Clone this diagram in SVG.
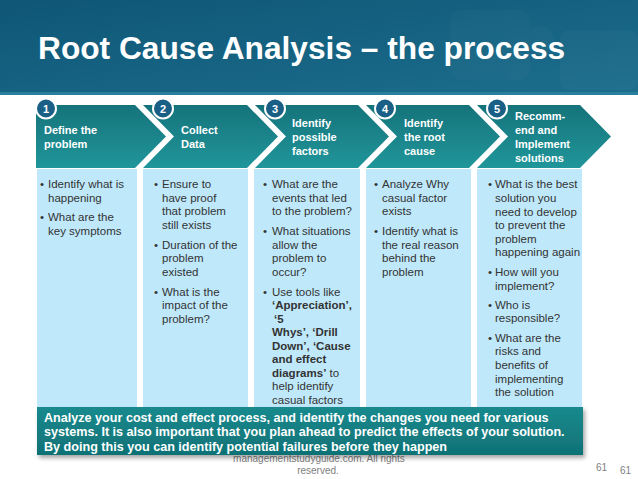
<svg xmlns="http://www.w3.org/2000/svg" width="638" height="479" viewBox="0 0 638 479">
<defs>
<linearGradient id="hdr" x1="0" y1="0" x2="1" y2="1">
<stop offset="0" stop-color="#0f5676"/>
<stop offset="1" stop-color="#1c6e8d"/>
</linearGradient>
<linearGradient id="chev" x1="0" y1="0" x2="0" y2="1">
<stop offset="0" stop-color="#15737b"/>
<stop offset="1" stop-color="#20969a"/>
</linearGradient>
<linearGradient id="ban" x1="0" y1="0" x2="0" y2="1">
<stop offset="0" stop-color="#1a8a8e"/>
<stop offset="1" stop-color="#0f7276"/>
</linearGradient>
<filter id="sh" x="-5%" y="-20%" width="110%" height="150%">
<feDropShadow dx="2" dy="3" stdDeviation="2" flood-color="#000" flood-opacity="0.35"/>
</filter>
<style>
.ct{font-family:"Liberation Sans",Arial,sans-serif;font-weight:bold;font-size:11px;fill:#fff}
.num{font-family:"Liberation Sans",Arial,sans-serif;font-weight:bold;font-size:11px;fill:#fff;text-anchor:middle}
.bd{font-family:"Liberation Sans",Arial,sans-serif;font-size:11.5px;fill:#333}
.b{font-weight:bold}
.col{fill:#bfe9fb}
.chev{fill:url(#chev)}
.circ{fill:#1a5f86;stroke:#fff;stroke-width:2}
.ft{font-family:"Liberation Sans",Arial,sans-serif;font-size:10px;fill:#808080}
.bn{font-family:"Liberation Sans",Arial,sans-serif;font-weight:bold;font-size:12.6px;fill:#fff}
</style>
</defs>
<rect width="638" height="479" fill="#fff"/>
<g id="header">
<rect x="0" y="0" width="638" height="95" fill="url(#hdr)"/>
<g fill="#fff" opacity="0.02">
<rect x="450" y="10" width="80" height="70" rx="10"/>
<circle cx="540" cy="40" r="14"/>
<rect x="560" y="30" width="78" height="60" rx="10"/>
</g>
<rect x="0" y="92" width="638" height="3" fill="#2a7f9c"/>
<text x="38" y="59" font-family="'Liberation Sans',Arial,sans-serif" font-weight="bold" font-size="31.7" fill="#fff">Root Cause Analysis – the process</text>
</g>
<g id="columns">
<rect class="col" x="37" y="169" width="100" height="240"/>
<rect class="col" x="143" y="169" width="105" height="240"/>
<rect class="col" x="254" y="169" width="106" height="240"/>
<rect class="col" x="366" y="169" width="105" height="240"/>
<rect class="col" x="477" y="169" width="105" height="240"/>
</g>
<g id="step1">
<path class="chev" d="M36,105 L135,105 L166,136.5 L135,168 L36,168 Z"/>
<circle class="circ" cx="46" cy="108.5" r="10"/>
<text class="num" x="46" y="112.5">1</text>
<text class="ct" x="44" y="134">Define the</text>
<text class="ct" x="44" y="148">problem</text>
<text class="bd" x="40" y="188">•</text>
<text class="bd" x="48" y="188">Identify what is</text>
<text class="bd" x="48" y="201.5">happening</text>
<text class="bd" x="40" y="221">•</text>
<text class="bd" x="48" y="221">What are the</text>
<text class="bd" x="48" y="234.5">key symptoms</text>
</g>
<g id="step2">
<path class="chev" d="M143,105 L247,105 L278,136.5 L247,168 L143,168 L174,136.5 Z"/>
<circle class="circ" cx="163" cy="108.5" r="10"/>
<text class="num" x="163" y="112.5">2</text>
<text class="ct" x="181" y="134">Collect</text>
<text class="ct" x="181" y="148">Data</text>
<text class="bd" x="154" y="188">•</text>
<text class="bd" x="162" y="188">Ensure to</text>
<text class="bd" x="162" y="201.5">have proof</text>
<text class="bd" x="162" y="215">that problem</text>
<text class="bd" x="162" y="228.5">still exists</text>
<text class="bd" x="154" y="248.5">•</text>
<text class="bd" x="162" y="248.5">Duration of the</text>
<text class="bd" x="162" y="262">problem</text>
<text class="bd" x="162" y="275.5">existed</text>
<text class="bd" x="154" y="295.5">•</text>
<text class="bd" x="162" y="295.5">What is the</text>
<text class="bd" x="162" y="309">impact  of the</text>
<text class="bd" x="162" y="322.5">problem?</text>
</g>
<g id="step3">
<path class="chev" d="M255,105 L358,105 L389,136.5 L358,168 L255,168 L286,136.5 Z"/>
<circle class="circ" cx="275" cy="108.5" r="10"/>
<text class="num" x="275" y="112.5">3</text>
<text class="ct" x="292" y="127">Identify</text>
<text class="ct" x="292" y="141">possible</text>
<text class="ct" x="292" y="155">factors</text>
<text class="bd" x="263" y="188">•</text>
<text class="bd" x="272" y="188">What are the</text>
<text class="bd" x="272" y="201.5">events that led</text>
<text class="bd" x="272" y="215">to the problem?</text>
<text class="bd" x="263" y="235">•</text>
<text class="bd" x="272" y="235">What situations</text>
<text class="bd" x="272" y="248.5">allow the</text>
<text class="bd" x="272" y="262">problem to</text>
<text class="bd" x="272" y="275.5">occur?</text>
<text class="bd" x="263" y="295.5">•</text>
<text class="bd" x="272" y="295.5">Use tools like</text>
<text class="bd b" x="272" y="309">‘Appreciation’,</text>
<text class="bd b" x="274" y="322.5">‘5</text>
<text class="bd b" x="272" y="336">Whys’, ‘Drill</text>
<text class="bd b" x="272" y="349.5">Down’, ‘Cause</text>
<text class="bd b" x="272" y="363">and effect</text>
<text class="bd" x="272" y="376.5"><tspan class="b">diagrams’</tspan> to</text>
<text class="bd" x="272" y="390">help identify</text>
<text class="bd" x="272" y="403.5">casual factors</text>
</g>
<g id="step4">
<path class="chev" d="M366,105 L469,105 L500,136.5 L469,168 L366,168 L397,136.5 Z"/>
<circle class="circ" cx="385" cy="108.5" r="10"/>
<text class="num" x="385" y="112.5">4</text>
<text class="ct" x="404" y="127">Identify</text>
<text class="ct" x="404" y="141">the root</text>
<text class="ct" x="404" y="155">cause</text>
<text class="bd" x="374" y="188">•</text>
<text class="bd" x="382" y="188">Analyze Why</text>
<text class="bd" x="382" y="201.5">casual factor</text>
<text class="bd" x="382" y="215">exists</text>
<text class="bd" x="374" y="235">•</text>
<text class="bd" x="382" y="235">Identify what is</text>
<text class="bd" x="382" y="248.5">the real reason</text>
<text class="bd" x="382" y="262">behind the</text>
<text class="bd" x="382" y="275.5">problem</text>
</g>
<g id="step5">
<path class="chev" d="M477,105 L580,105 L611,136.5 L580,168 L477,168 L508,136.5 Z"/>
<circle class="circ" cx="497" cy="108.5" r="10"/>
<text class="num" x="497" y="112.5">5</text>
<text class="ct" x="515" y="119.5">Recomm-</text>
<text class="ct" x="515" y="133.5">end and</text>
<text class="ct" x="515" y="147.5">Implement</text>
<text class="ct" x="515" y="161.5">solutions</text>
<text class="bd" x="488" y="188">•</text>
<text class="bd" x="495" y="188">What is the best</text>
<text class="bd" x="495" y="201.5">solution you</text>
<text class="bd" x="495" y="215.5">need to develop</text>
<text class="bd" x="495" y="229">to prevent the</text>
<text class="bd" x="495" y="242.5">problem</text>
<text class="bd" x="495" y="256">happening again</text>
<text class="bd" x="488" y="276">•</text>
<text class="bd" x="495" y="276">How will you</text>
<text class="bd" x="495" y="289.5">implement?</text>
<text class="bd" x="488" y="308.5">•</text>
<text class="bd" x="495" y="308.5">Who is</text>
<text class="bd" x="495" y="322">responsible?</text>
<text class="bd" x="488" y="341.5">•</text>
<text class="bd" x="495" y="341.5">What are the</text>
<text class="bd" x="495" y="355">risks and</text>
<text class="bd" x="495" y="368.5">benefits of</text>
<text class="bd" x="495" y="382.5">implementing</text>
<text class="bd" x="495" y="396">the solution</text>
</g>
<g id="footer">
<text class="ft" x="319" y="461.5" text-anchor="middle">managementstudyguide.com. All rights</text>
<text class="ft" x="318" y="474" text-anchor="middle">reserved.</text>
<text class="ft" x="596" y="471">61</text>
<text class="ft" x="620" y="474">61</text>
</g>
<g id="banner">
<rect x="37" y="407" width="546" height="48" fill="url(#ban)" filter="url(#sh)"/>
<text class="bn" x="44" y="421.5">Analyze your cost and effect process, and identify the changes you need for various</text>
<text class="bn" x="44" y="436">systems. It is also important that you plan ahead to predict the effects of your solution.</text>
<text class="bn" x="44" y="450.5">By doing this you can identify potential failures before they happen</text>
</g>
</svg>
